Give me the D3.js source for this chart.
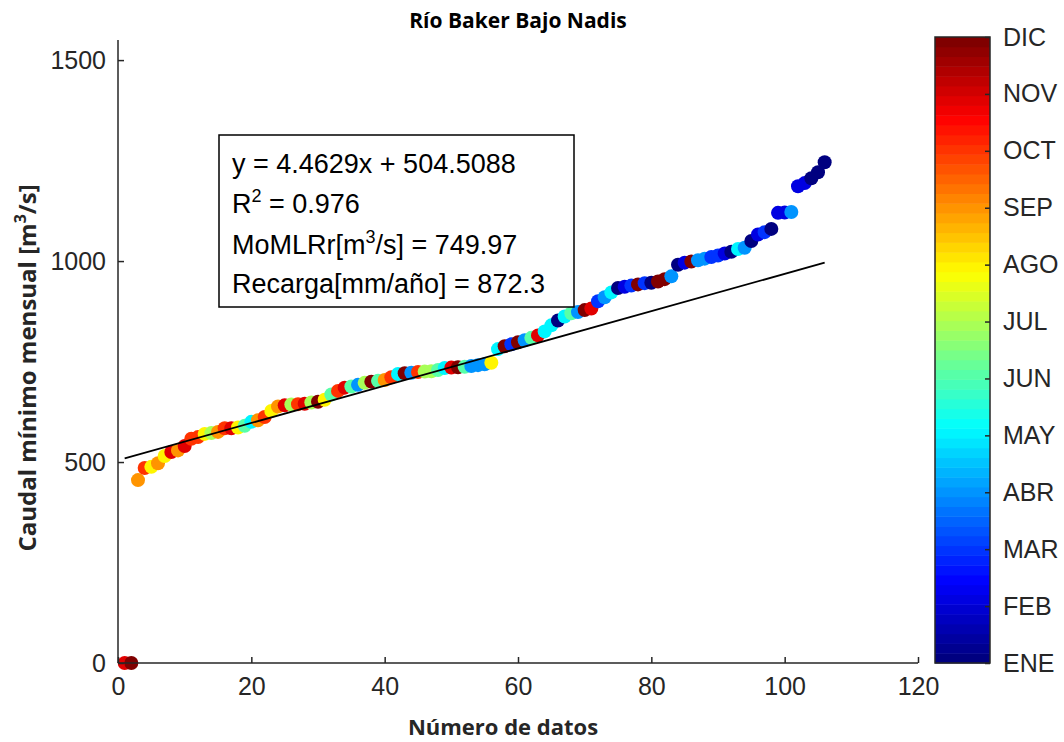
<!DOCTYPE html>
<html><head><meta charset="utf-8">
<script src="https://cdn.jsdelivr.net/npm/d3@7"></script>
<style>body{margin:0;background:#fff}</style></head>
<body><svg id="c" width="1064" height="742"></svg>
<script>
// ---- data ----
const caudal = [0,0,455,485,488,497,515,525,529,540,558,562,570,572,575,584,584,586,590,600,
  604,612,627,638,641,643,644,645,648,650,655,668,677,685,688,692,697,700,702,704,
  711,719,721,722,724,725,726,729,734,735,736,737,739,741,743,747,781,788,793,798,
  803,809,815,825,840,852,862,870,873,878,882,900,910,922,933,936,939,942,945,946,
  949,955,962,991,996,999,1002,1006,1010,1014,1019,1023,1030,1033,1050,1066,1072,1080,1120,1121,
  1122,1186,1194,1206,1221,1246];
const mes = [11,12,9,10,8,9,8,11,9,11,10,10,8,7,9,10,11,8,6,5,
  9,10,8,9,11,7,10,11,7,12,8,6,10,11,6,4,7,12,6,9,
  10,5,12,4,10,7,7,6,5,11,12,6,4,4,4,8,5,12,3,12,
  4,6,11,5,5,1,5,6,4,12,11,3,4,5,1,2,3,12,3,1,
  12,12,4,1,2,12,4,4,3,3,2,1,5,4,1,2,3,1,2,2,
  4,2,2,1,1,1];
const xTicks = [0,20,40,60,80,100,120];
const yTicks = [0,500,1000,1500];
const monthLabels = ["ENE","FEB","MAR","ABR","MAY","JUN","JUL","AGO","SEP","OCT","NOV","DIC"];
// regression line end points
const fitX = [1, 106];
const fitY = [509, 996];

// ---- helpers ----
function jet(t){
  const c = v => Math.max(0, Math.min(1, v));
  const r = c(1.5 - Math.abs(4*t - 3)), g = c(1.5 - Math.abs(4*t - 2)), b = c(1.5 - Math.abs(4*t - 1));
  return d3.rgb(r*255, g*255, b*255).toString();
}
const jetQ = m => jet(Math.round((m-1)/11*63)/63);

const svg = d3.select("#c");
const x = d3.scaleLinear().domain([0,120]).range([118, 918]);
const y = d3.scaleLinear().domain([0,1550]).range([663, 40]);
const textCol = "#262626";
const tickFont = "Liberation Sans, Arial, sans-serif";
const fs = 25;

// points
const pts = caudal.map((v,i)=>({x:i+1, y:v, m:mes[i]}));
svg.append("g").selectAll("circle").data(pts).join("circle")
  .attr("cx", d=>x(d.x)).attr("cy", d=>y(d.y)).attr("r", 7)
  .attr("fill", d=>jetQ(d.m));

// fit line
svg.append("line")
  .attr("x1", x(fitX[0])).attr("y1", y(fitY[0]))
  .attr("x2", x(fitX[1])).attr("y2", y(fitY[1]))
  .attr("stroke", "#000").attr("stroke-width", 1.8);

// axes
const xAxis = d3.axisBottom(x).tickValues(xTicks).tickFormat(d3.format("d")).tickSize(-6).tickPadding(14);
const gx = svg.append("g").attr("transform","translate(0,663)").call(xAxis);
const yAxis = d3.axisLeft(y).tickValues(yTicks).tickFormat(d3.format("d")).tickSize(-6).tickPadding(12);
const gy = svg.append("g").attr("transform","translate(118,0)").call(yAxis);
[gx, gy].forEach(g=>{
  g.select(".domain").attr("stroke", textCol).attr("stroke-width", 1.5);
  g.selectAll(".tick line").attr("stroke", textCol).attr("stroke-width", 1.5);
  g.selectAll(".tick text").attr("fill", textCol).attr("font-family", tickFont).attr("font-size", fs);
});
gy.select(".domain").attr("d", `M0,${y(1550)}V${y(0)}`);
gx.select(".domain").attr("d", `M${x(0)},0H${x(120)}`);

// title & labels
svg.append("text").attr("x", 518).attr("y", 28).attr("text-anchor","middle")
  .attr("font-family","Open Sans, sans-serif").attr("font-weight",700).attr("font-size",21)
  .attr("fill","#000").text("Río Baker Bajo Nadis");
svg.append("text").attr("x", 503).attr("y", 735).attr("text-anchor","middle")
  .attr("font-family","Open Sans, sans-serif").attr("font-weight",700).attr("font-size",22)
  .attr("fill", textCol).text("Número de datos");
const yl = svg.append("text").attr("transform","translate(36,368) rotate(-90)").attr("text-anchor","middle")
  .attr("font-family","Open Sans, sans-serif").attr("font-weight",700).attr("font-size",24).attr("fill", textCol);
yl.append("tspan").text("Caudal mínimo mensual [m");
yl.append("tspan").attr("font-size",16).attr("dy",-10).text("3");
yl.append("tspan").attr("dy",10).text("/s]");

// annotation box
svg.append("rect").attr("x",219).attr("y",135).attr("width",355).attr("height",172)
  .attr("fill","#fff").attr("stroke","#000").attr("stroke-width",1.5);
const ann = svg.append("g").attr("font-family", tickFont).attr("font-size",27).attr("fill","#000");
const base = [173, 213, 254, 293];
ann.append("text").attr("x",232).attr("y",base[0]).text("y = 4.4629x + 504.5088");
function supText(yy, pre, sup, post){
  const t = ann.append("text").attr("x",232).attr("y",yy);
  t.append("tspan").text(pre);
  t.append("tspan").attr("font-size",18).attr("dy",-11).text(sup);
  t.append("tspan").attr("dy",11).text(post);
}
supText(base[1], "R", "2", " = 0.976");
supText(base[2], "MoMLRr[m", "3", "/s] = 749.97");
ann.append("text").attr("x",232).attr("y",base[3]).text("Recarga[mm/año] = 872.3");

// colorbar
const cb = {x:935, w:55};
const cy = d3.scaleLinear().domain([1,12]).range([663, 37]);
const bands = d3.range(64);
svg.append("g").selectAll("rect").data(bands).join("rect")
  .attr("x", cb.x).attr("width", cb.w)
  .attr("y", i=>cy(1+11*(i+1)/64)).attr("height", i=>cy(1+11*i/64)-cy(1+11*(i+1)/64)+0.5)
  .attr("fill", i=>jet(i/63));
svg.append("rect").attr("x",cb.x).attr("y",cy(12)).attr("width",cb.w).attr("height",cy(1)-cy(12))
  .attr("fill","none").attr("stroke",textCol).attr("stroke-width",1.5);
const cAxis = d3.axisRight(cy).tickValues(d3.range(1,13)).tickFormat(d=>monthLabels[d-1]).tickSize(-5).tickPadding(13);
const gc = svg.append("g").attr("transform",`translate(${cb.x+cb.w},0)`).call(cAxis);
gc.select(".domain").remove();
gc.selectAll(".tick line").attr("stroke",textCol).attr("stroke-width",1.5);
gc.selectAll(".tick text").attr("fill",textCol).attr("font-family",tickFont).attr("font-size",fs);
</script></body></html>
